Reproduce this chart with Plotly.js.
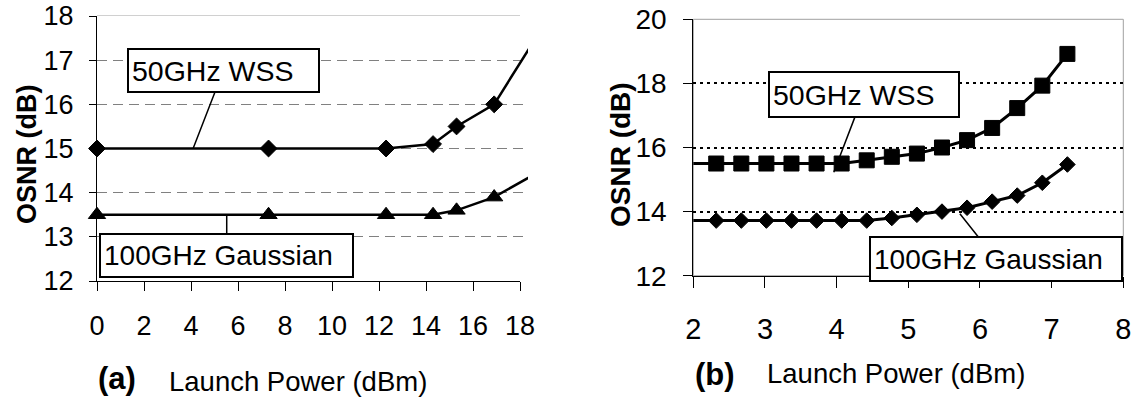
<!DOCTYPE html>
<html>
<head>
<meta charset="utf-8">
<script src="https://cdn.plot.ly/plotly-3.0.1.min.js"></script>
<style>html,body{margin:0;padding:0;background:#fff;}#chart{width:1134px;height:398px;}</style>
</head>
<body>
<div id="chart"></div>
<script>
// ---- Data: panel (a) ----
var a_power = [0, 7.3, 12.3, 14.3, 15.3, 16.9, 18.9];
var a_wss50 = [15, 15, 15, 15.1, 15.5, 16, 17.7];
var a_gauss100 = [13.5, 13.5, 13.5, 13.5, 13.6, 13.9, 14.5];
var a_xticks = [0, 2, 4, 6, 8, 10, 12, 14, 16, 18];
var a_yticks = [12, 13, 14, 15, 16, 17, 18];

// ---- Data: panel (b) ----
var b_power = [1.97, 2.32, 2.67, 3.02, 3.37, 3.72, 4.07, 4.42, 4.77, 5.12, 5.47, 5.82, 6.17, 6.52, 6.87, 7.22];
var b_wss50 = [15.5, 15.5, 15.5, 15.5, 15.5, 15.5, 15.5, 15.6, 15.71, 15.81, 16.0, 16.23, 16.61, 17.23, 17.93, 18.92];
var b_gauss100 = [13.72, 13.72, 13.72, 13.72, 13.72, 13.72, 13.72, 13.72, 13.8, 13.9, 14.0, 14.12, 14.31, 14.5, 14.9, 15.47];
var b_xticks = [2, 3, 4, 5, 6, 7, 8];
var b_yticks = [12, 14, 16, 18, 20];

var labels = {wss: '50GHz WSS', gauss: '100GHz Gaussian', xtitle: 'Launch Power (dBm)', ytitle: 'OSNR (dB)', a: '(a)', b: '(b)'};

var FONT = 'Liberation Sans, Arial, Helvetica, sans-serif';
var W = 1134, H = 398;
function px(x) { return x / W; }
function py(y) { return 1 - y / H; }

// marker sizes: hide the points that only carry the line beyond the axis range
var aSizeD = a_power.map(function (v) { return v > 18 ? 0 : 13; });
var aSizeT = a_power.map(function (v) { return v > 18 ? 0 : 15; });
var bSizeS = b_power.map(function (v) { return v < 2 ? 0 : 15; });
var bSizeD = b_power.map(function (v) { return v < 2 ? 0 : 12; });

var mline = {color: '#000', width: 1};
var traces = [
  {x: a_power, y: a_wss50, xaxis: 'x3', yaxis: 'y', mode: 'lines+markers', name: labels.wss,
   line: {color: '#000', width: 2.5}, marker: {symbol: 'diamond', size: aSizeD, color: '#000', opacity: 1, line: mline}, cliponaxis: false},
  {x: a_power, y: a_gauss100, xaxis: 'x3', yaxis: 'y', mode: 'lines+markers', name: labels.gauss,
   line: {color: '#000', width: 2.5}, marker: {symbol: 'triangle-up', size: aSizeT, color: '#000', opacity: 1, line: mline}, cliponaxis: false},
  {x: b_power, y: b_wss50, xaxis: 'x2', yaxis: 'y2', mode: 'lines+markers', name: labels.wss,
   line: {color: '#000', width: 3}, marker: {symbol: 'square', size: bSizeS, color: '#000', opacity: 1, line: mline}, cliponaxis: false},
  {x: b_power, y: b_gauss100, xaxis: 'x2', yaxis: 'y2', mode: 'lines+markers', name: labels.gauss,
   line: {color: '#000', width: 3}, marker: {symbol: 'diamond', size: bSizeD, color: '#000', opacity: 1, line: mline}, cliponaxis: false}
];

var axBase = {showline: true, linecolor: '#000', linewidth: 1, ticks: 'outside', tickcolor: '#000', tickwidth: 1,
  zeroline: false, fixedrange: true, color: '#000'};

function merge(a, b) { var o = {}; for (var k in a) o[k] = a[k]; for (var k2 in b) o[k2] = b[k2]; return o; }

var layout = {
  width: W, height: H,
  margin: {l: 0, r: 0, t: 0, b: 0, pad: 0},
  paper_bgcolor: '#fff', plot_bgcolor: '#fff',
  showlegend: false,
  font: {family: FONT, color: '#000'},
  xaxis: merge(axBase, {domain: [px(97), px(520)], range: [0, 18], tickmode: 'array', tickvals: a_xticks,
    ticklen: 9, showgrid: false, tickfont: {size: 27, family: FONT}, ticklabelstandoff: 12, anchor: 'y'}),
  xaxis3: {domain: [px(97), px(528)], range: [0, 18.34], visible: false, anchor: 'y', fixedrange: true},
  yaxis: merge(axBase, {domain: [py(281), py(16)], range: [12, 18], tickmode: 'array', tickvals: a_yticks,
    ticklen: 7, showgrid: true, gridcolor: '#808080', gridwidth: 1, griddash: '10px,6px',
    tickfont: {size: 27, family: FONT}, ticklabelstandoff: 10, anchor: 'x'}),
  xaxis2: merge(axBase, {domain: [px(693.3), px(1123.3)], range: [2, 8], tickmode: 'array', tickvals: b_xticks,
    ticklen: 11, showgrid: false, tickfont: {size: 29, family: FONT}, ticklabelstandoff: 16, anchor: 'y2'}),
  yaxis2: merge(axBase, {domain: [py(275.7), py(19.3)], range: [12, 20], tickmode: 'array', tickvals: b_yticks,
    ticklen: 9, showgrid: true, gridcolor: '#000', gridwidth: 2, griddash: '3px,4px',
    tickfont: {size: 28, family: FONT}, ticklabelstandoff: 11, anchor: 'x2'}),
  shapes: [
    {type: 'rect', xref: 'x domain', yref: 'y domain', x0: 0, x1: 1, y0: 0, y1: 1,
     line: {color: '#a0a0a0', width: 1}, layer: 'below'},
    {type: 'rect', xref: 'x2 domain', yref: 'y2 domain', x0: 0, x1: 1, y0: 0, y1: 1,
     line: {color: '#a0a0a0', width: 1}, layer: 'below'}
  ],
  annotations: [
    // callout boxes
    {xref: 'x', yref: 'y', axref: 'x', ayref: 'y', x: 4.09, y: 15, ax: 5.38, ay: 16.77,
     text: labels.wss, showarrow: true, arrowhead: 0, arrowwidth: 1.5, arrowcolor: '#000', standoff: 0,
     font: {size: 28.5, family: FONT, color: '#000'}, align: 'left', width: 183, height: 35,
     bgcolor: '#fff', bordercolor: '#000', borderwidth: 2, borderpad: 3},
    {xref: 'x', yref: 'y', axref: 'x', ayref: 'y', x: 5.52, y: 13.5, ax: 5.52, ay: 12.57,
     text: labels.gauss, showarrow: true, arrowhead: 0, arrowwidth: 1.5, arrowcolor: '#000', standoff: 0,
     font: {size: 28, family: FONT, color: '#000'}, align: 'left', width: 245, height: 35,
     bgcolor: '#fff', bordercolor: '#000', borderwidth: 2, borderpad: 3},
    {xref: 'x2', yref: 'y2', axref: 'x2', ayref: 'y2', x: 3.96, y: 15.23, ax: 4.375, ay: 17.65,
     text: labels.wss, showarrow: true, arrowhead: 0, arrowwidth: 1.5, arrowcolor: '#000', standoff: 0,
     font: {size: 28.5, family: FONT, color: '#000'}, align: 'left', width: 182, height: 37,
     bgcolor: '#fff', bordercolor: '#000', borderwidth: 2, borderpad: 3},
    {xref: 'x2', yref: 'y2', axref: 'x2', ayref: 'y2', x: 5.72, y: 13.93, ax: 6.22, ay: 12.53,
     text: labels.gauss, showarrow: true, arrowhead: 0, arrowwidth: 1.5, arrowcolor: '#000', standoff: 0,
     font: {size: 28, family: FONT, color: '#000'}, align: 'left', width: 244, height: 36,
     bgcolor: '#fff', bordercolor: '#000', borderwidth: 2, borderpad: 3},
    // axis titles
    {xref: 'paper', yref: 'paper', x: px(27), y: py(155), text: '<b>' + labels.ytitle + '</b>', textangle: -90,
     showarrow: false, xanchor: 'center', yanchor: 'middle', font: {size: 27, family: FONT, color: '#000'}},
    {xref: 'paper', yref: 'paper', x: px(620), y: py(155), text: '<b>' + labels.ytitle + '</b>', textangle: -90,
     showarrow: false, xanchor: 'center', yanchor: 'middle', font: {size: 28, family: FONT, color: '#000'}},
    {xref: 'paper', yref: 'paper', x: px(117), y: py(378), text: '<b>' + labels.a + '</b>',
     showarrow: false, xanchor: 'center', yanchor: 'middle', font: {size: 31, family: FONT, color: '#000'}},
    {xref: 'paper', yref: 'paper', x: px(298), y: py(381), text: labels.xtitle,
     showarrow: false, xanchor: 'center', yanchor: 'middle', font: {size: 27.5, family: FONT, color: '#000'}},
    {xref: 'paper', yref: 'paper', x: px(715), y: py(374), text: '<b>' + labels.b + '</b>',
     showarrow: false, xanchor: 'center', yanchor: 'middle', font: {size: 31, family: FONT, color: '#000'}},
    {xref: 'paper', yref: 'paper', x: px(895.7), y: py(373), text: labels.xtitle,
     showarrow: false, xanchor: 'center', yanchor: 'middle', font: {size: 27.5, family: FONT, color: '#000'}}
  ]
};

Plotly.newPlot('chart', traces, layout, {staticPlot: true, displayModeBar: false});
</script>
</body>
</html>
